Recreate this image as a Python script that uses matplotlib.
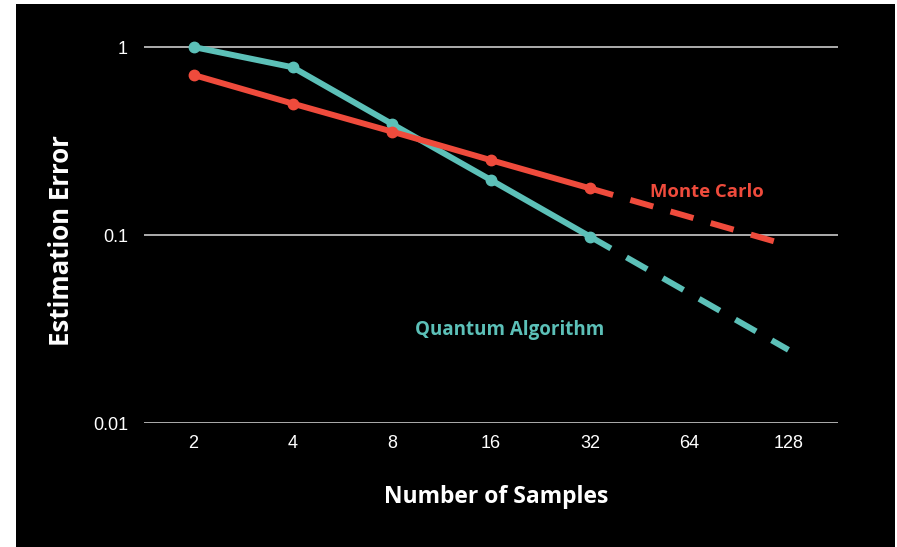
import matplotlib
matplotlib.use("Agg")
import matplotlib.pyplot as plt
from matplotlib.patches import Rectangle
from matplotlib.ticker import FixedLocator, NullLocator

# Measured error vs. number of samples
samples_measured = [2, 4, 8, 16, 32]
quantum_err = [1.0, 0.78, 0.39, 0.196, 0.098]
monte_err = [0.71, 0.50, 0.355, 0.25, 0.177]

# Projected trend beyond the measured range
samples_projected = [32, 128]
quantum_proj = [0.098, 0.0245]
monte_proj = [0.177, 0.088]

x_ticks = [2, 4, 8, 16, 32, 64, 128]
x_tick_labels = ["2", "4", "8", "16", "32", "64", "128"]
y_ticks = [0.01, 0.1, 1]
y_tick_labels = ["0.01", "0.1", "1"]

TEAL = "#5cc0b8"
RED = "#ef4b3c"
BOLD_FONT = ["Open Sans", "DejaVu Sans"]
TICK_FONT = ["Liberation Sans", "DejaVu Sans"]

W, H = 897, 547
fig = plt.figure(figsize=(W / 100, H / 100), dpi=100, facecolor="white")
fig.patches.append(Rectangle((16 / W, 0), (895 - 16) / W, (547 - 4) / H,
                             transform=fig.transFigure, facecolor="black",
                             edgecolor="none", zorder=-10))

ax_left, ax_right = 144 / W, 838 / W
ax_bottom = (H - 423) / H
ax_height = 394.8 / H
ax = fig.add_axes([ax_left, ax_bottom, ax_right - ax_left, ax_height])
ax.set_facecolor("none")

ax.set_xscale("log", base=2)
ax.set_yscale("log")
ax.set_xlim(2 ** 0.5, 2 ** 7.5)
ax.set_ylim(0.01, 10 ** 0.1)

for yv in y_ticks:
    ax.axhline(yv, color="#dcdcdc", lw=1.1, zorder=1)

lw = 4.3
ms = 7.5
ax.plot(samples_measured, quantum_err, color=TEAL, lw=lw, marker="o",
        ms=ms, solid_capstyle="round", zorder=3)
ax.plot(samples_measured, monte_err, color=RED, lw=lw, marker="o",
        ms=ms, solid_capstyle="round", zorder=4)
ax.plot(samples_projected, quantum_proj, color=TEAL, lw=lw,
        ls=(0, (4.0, 3.0)), zorder=3)
ax.plot(samples_projected, monte_proj, color=RED, lw=lw,
        ls=(0, (4.0, 3.0)), zorder=4)

ax.xaxis.set_major_locator(FixedLocator(x_ticks))
ax.xaxis.set_minor_locator(NullLocator())
ax.set_xticklabels(x_tick_labels)
ax.yaxis.set_major_locator(FixedLocator(y_ticks))
ax.yaxis.set_minor_locator(NullLocator())
ax.set_yticklabels(y_tick_labels)

ax.tick_params(axis="both", length=0, colors="white", labelsize=13)
ax.tick_params(axis="x", pad=9)
ax.tick_params(axis="y", pad=11.5)
for lab in ax.get_xticklabels() + ax.get_yticklabels():
    lab.set_family(TICK_FONT)

for sp in ax.spines.values():
    sp.set_visible(False)

ax.set_xlabel("Number of Samples", color="white", fontsize=16.5,
              fontweight="bold", family=BOLD_FONT)
ax.xaxis.set_label_coords(0.507, -0.157)
ax.set_ylabel("Estimation Error", color="white", fontsize=18.5,
              fontweight="bold", family=BOLD_FONT)
ax.yaxis.set_label_coords(-0.100, 0.461)

ax.text(0.811, 0.585, "Monte Carlo", transform=ax.transAxes, color=RED,
        fontsize=13.3, fontweight="bold", family=BOLD_FONT,
        ha="center", va="center")
ax.text(0.527, 0.2356, "Quantum Algorithm", transform=ax.transAxes,
        color=TEAL, fontsize=13.5, fontweight="bold", family=BOLD_FONT,
        ha="center", va="center")

fig.savefig("out.png", dpi=100, facecolor=fig.get_facecolor())
